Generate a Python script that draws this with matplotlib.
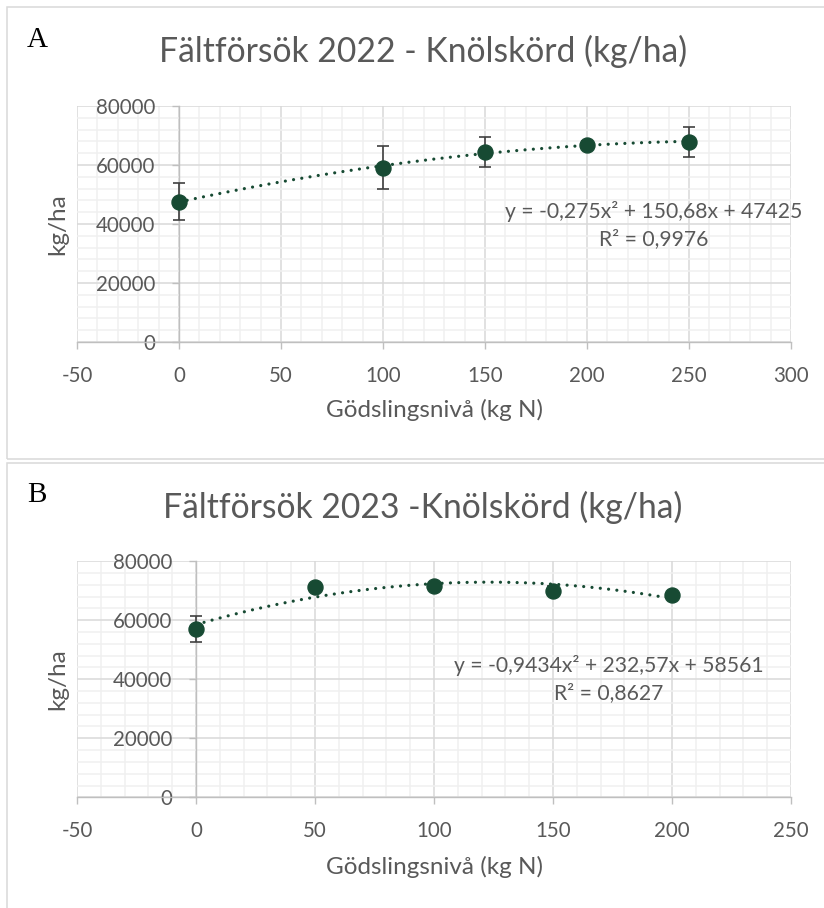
import numpy as np
import matplotlib
matplotlib.use("Agg")
import matplotlib.pyplot as plt
from matplotlib.patches import Rectangle
from matplotlib.ticker import MultipleLocator

# ── Data ──────────────────────────────────────────────────────────────────────
n_2022 = [0, 100, 150, 200, 250]
yield_2022 = [47600, 59100, 64400, 66900, 67800]
err_2022 = [6400, 7300, 5000, 1300, 5200]
eq_2022 = "y = -0,275x² + 150,68x + 47425\nR² = 0,9976"
title_2022 = "Fältförsök 2022 - Knölskörd (kg/ha)"

n_2023 = [0, 50, 100, 150, 200]
yield_2023 = [57000, 71200, 71600, 70000, 68600]
err_2023 = [4500, 900, 1000, 1500, 800]
eq_2023 = "y = -0,9434x² + 232,57x + 58561\nR² = 0,8627"
title_2023 = "Fältförsök 2023 -Knölskörd (kg/ha)"

xlabel = "Gödslingsnivå (kg N)"
ylabel = "kg/ha"

# ── Style ─────────────────────────────────────────────────────────────────────
W, H = 824, 908
GREEN = "#174a33"
TEXT = "#595959"
AXIS = "#bfbfbf"
plt.rcParams["font.family"] = ["Lato", "DejaVu Sans"]
plt.rcParams["axes.unicode_minus"] = False

fig = plt.figure(figsize=(W / 100, H / 100), dpi=100, facecolor="white")


def px(x, y):
    """pixel (from top-left) -> figure fraction"""
    return x / W, 1 - y / H


def panel(top, bottom, xs, ys, errs, xmax, title, eq, eq_xy, letter, letter_y, title_y):
    left, right = 77, 791
    ax = fig.add_axes([left / W, 1 - bottom / H, (right - left) / W, (bottom - top) / H])
    ax.set_xlim(-50, xmax)
    ax.set_ylim(0, 80000)
    ax.xaxis.set_major_locator(MultipleLocator(50))
    ax.xaxis.set_minor_locator(MultipleLocator(10))
    ax.yaxis.set_major_locator(MultipleLocator(20000))
    ax.yaxis.set_minor_locator(MultipleLocator(4000))
    ax.grid(which="minor", color="#f0f0f0", lw=1.1, zorder=0)
    ax.grid(which="major", color="#d9d9d9", lw=1.1, zorder=0)
    ax.set_axisbelow(True)

    for s in ("top", "right"):
        ax.spines[s].set_visible(False)
    ax.spines["left"].set_position(("data", 0))
    ax.spines["left"].set_color(AXIS)
    ax.spines["bottom"].set_color(AXIS)
    ax.spines["left"].set_linewidth(1.0)
    ax.spines["bottom"].set_linewidth(1.0)

    ax.tick_params(which="major", axis="y", direction="out", length=5, width=1,
                   color=AXIS, labelcolor=TEXT, labelsize=14.8, pad=12)
    ax.tick_params(which="major", axis="x", direction="out", length=5, width=1,
                   color=AXIS, labelcolor=TEXT, labelsize=14.8, pad=12)
    ax.tick_params(which="minor", length=0)

    # trendline: 2nd order polynomial fitted to the points
    coef = np.polyfit(xs, ys, 2)
    xx = np.linspace(min(xs), max(xs), 200)
    ax.plot(xx, np.polyval(coef, xx), color=GREEN, lw=2.3,
            linestyle=(0, (0.01, 2.6)), dash_capstyle="round", zorder=3)

    ax.errorbar(xs, ys, yerr=errs, fmt="none", ecolor="#404040", elinewidth=1.2,
                capsize=4.3, capthick=1.2, zorder=4)
    ax.plot(xs, ys, "o", color=GREEN, markersize=10.8, zorder=5)

    ax.set_xlabel(xlabel, color=TEXT, fontsize=17.5, va="center")
    ax.xaxis.set_label_coords(0.5, -(eq_xy[2] - bottom) / (bottom - top))
    ax.set_ylabel(ylabel, color=TEXT, fontsize=17.5, va="center")
    ax.yaxis.set_label_coords((58 - left) / (right - left), 0.5)

    fx, fy = px(eq_xy[0], eq_xy[1])
    fig.text(fx, fy, eq, ha="center", va="center", multialignment="center",
             color=TEXT, fontsize=15.2, linespacing=1.4)
    fig.text(*px(423, title_y), title, ha="center", va="baseline", color=TEXT, fontsize=24.2)
    fig.text(*px(27, letter_y), letter, ha="left", va="baseline", color="black",
             fontsize=21, family="Liberation Serif")
    return ax


panel(106, 342, n_2022, yield_2022, err_2022, 300, title_2022, eq_2022,
      (654, 225, 410), "A", 47, 62)
panel(561.3, 797.3, n_2023, yield_2023, err_2023, 250, title_2023, eq_2023,
      (609, 679, 866.7), "B", 502, 518)

# panel frames
for y0, y1 in ((7, 459.5), (462.5, 920)):
    x0f, y1f = px(7, y1)
    fig.patches.append(Rectangle((x0f, y1f), (830 - 7) / W, (y1 - y0) / H,
                                 transform=fig.transFigure, fill=False,
                                 edgecolor="#d9d9d9", lw=1.1))

fig.savefig("out.png", dpi=100, facecolor="white")
